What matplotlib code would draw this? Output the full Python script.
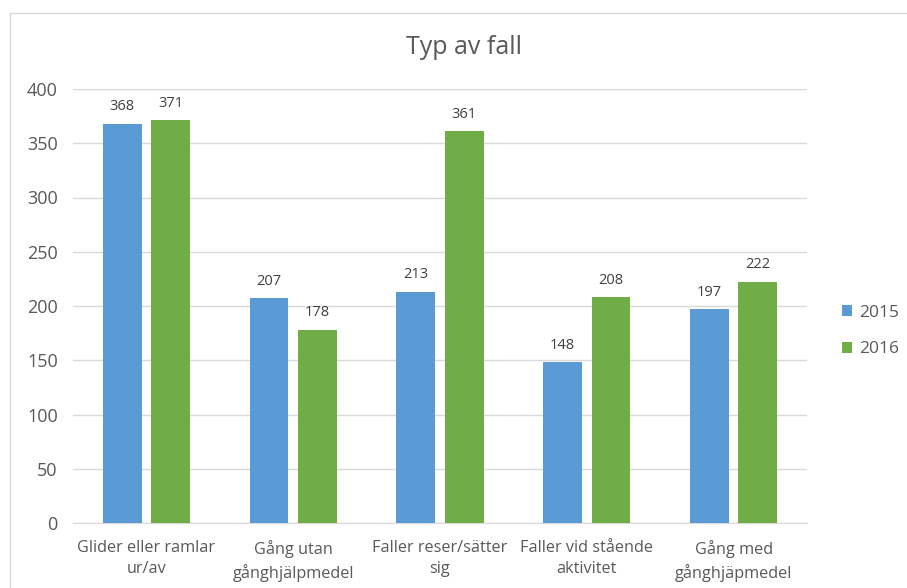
import matplotlib
matplotlib.use("Agg")
import matplotlib.pyplot as plt
from matplotlib.patches import Rectangle
import numpy as np

plt.rcParams['font.family'] = ['Open Sans', 'DejaVu Sans']

categories = ["Glider eller ramlar\nur/av", "Gång utan\ngånghjälpmedel",
              "Faller reser/sätter\nsig", "Faller vid stående\naktivitet",
              "Gång med\ngånghjäpmedel"]
values_2015 = [368, 207, 213, 148, 197]
values_2016 = [371, 178, 361, 208, 222]
series_names = ["2015", "2016"]
y_ticks = [0, 50, 100, 150, 200, 250, 300, 350, 400]

blue = "#5B9BD5"
green = "#70AD47"
text_gray = "#595959"

fig = plt.figure(figsize=(9.07, 5.88), dpi=100)
fig.patch.set_facecolor("white")

# light chart frame
fig.patches.append(Rectangle((9.5 / 907, -0.01), 1.0, (588 - 12.5) / 588 + 0.01,
                             transform=fig.transFigure, fill=False,
                             edgecolor="#D9D9D9", linewidth=1.0))

ax = fig.add_axes([73 / 907, 65 / 588, (807 - 73) / 907, (523 - 89) / 588])
x = np.arange(len(categories))
w = 0.265
off = 0.165
b1 = ax.bar(x - off, values_2015, w, color=blue, label=series_names[0], zorder=3)
b2 = ax.bar(x + off, values_2016, w, color=green, label=series_names[1], zorder=3)

for bars in (b1, b2):
    for rect in bars:
        h = rect.get_height()
        ax.annotate(f"{h:.0f}", (rect.get_x() + rect.get_width() / 2, h),
                    xytext=(0, 7), textcoords="offset points", ha="center",
                    va="bottom", fontsize=10.5, color="#404040")

ax.set_xlim(-0.5, len(categories) - 0.5)
ax.set_ylim(0, 400)
ax.set_yticks(y_ticks)
ax.yaxis.grid(True, color="#D9D9D9", linewidth=1.0, zorder=0)
ax.set_axisbelow(True)
for s in ["top", "right", "left"]:
    ax.spines[s].set_visible(False)
ax.spines["bottom"].set_color("#D9D9D9")
ax.tick_params(axis="both", length=0, colors=text_gray, labelsize=13)
ax.tick_params(axis="y", pad=11)
ax.tick_params(axis="x", pad=12)
ax.set_xticks(x)
ax.set_xticklabels(categories, fontsize=11.7, color=text_gray, linespacing=1.45)

fig.text(464 / 907, 1 - 47 / 588, "Typ av fall", ha="center", va="center",
         fontsize=18, color=text_gray)

leg = fig.legend(handles=[b1, b2], labels=series_names, loc="center left",
                 bbox_to_anchor=(826 / 907, 1 - 331 / 588), frameon=False,
                 fontsize=12.5, handlelength=0.6, handleheight=0.6,
                 handletextpad=0.4, labelspacing=1.2, labelcolor=text_gray)

fig.savefig("out.png", dpi=100)
